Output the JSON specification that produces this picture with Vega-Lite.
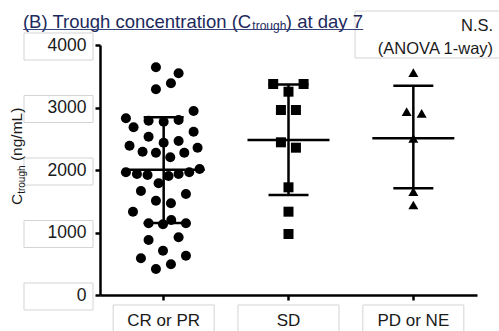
{
  "$schema": "https://vega.github.io/schema/vega-lite/v6.json",
  "width": 377,
  "height": 250,
  "autosize": {"type": "none"},
  "padding": {"left": 100, "top": 45, "right": 22, "bottom": 36},
  "background": "white",
  "config": {"view": {"stroke": null}, "font": "Liberation Sans"},
  "datasets": {
    "points": [
      {"group": "CR or PR", "off": -1.03, "value": 3643},
      {"group": "CR or PR", "off": 1.99, "value": 3547},
      {"group": "CR or PR", "off": 0.97, "value": 3387},
      {"group": "CR or PR", "off": -1.03, "value": 3291},
      {"group": "CR or PR", "off": 3.99, "value": 2944},
      {"group": "CR or PR", "off": -5.03, "value": 2827},
      {"group": "CR or PR", "off": -2.01, "value": 2789},
      {"group": "CR or PR", "off": 0, "value": 2773},
      {"group": "CR or PR", "off": 1.99, "value": 2800},
      {"group": "CR or PR", "off": -4.01, "value": 2683},
      {"group": "CR or PR", "off": 3.99, "value": 2613},
      {"group": "CR or PR", "off": -2.01, "value": 2533},
      {"group": "CR or PR", "off": 0, "value": 2437},
      {"group": "CR or PR", "off": 1.99, "value": 2464},
      {"group": "CR or PR", "off": -4.55, "value": 2389},
      {"group": "CR or PR", "off": 4.52, "value": 2357},
      {"group": "CR or PR", "off": -2.81, "value": 2293},
      {"group": "CR or PR", "off": -1.03, "value": 2277},
      {"group": "CR or PR", "off": 2.75, "value": 2277},
      {"group": "CR or PR", "off": 0.88, "value": 2203},
      {"group": "CR or PR", "off": -5.03, "value": 1963},
      {"group": "CR or PR", "off": -3.56, "value": 1936},
      {"group": "CR or PR", "off": -2.15, "value": 1920},
      {"group": "CR or PR", "off": 0.65, "value": 1904},
      {"group": "CR or PR", "off": 1.99, "value": 1936},
      {"group": "CR or PR", "off": 3.41, "value": 1963},
      {"group": "CR or PR", "off": 4.79, "value": 2016},
      {"group": "CR or PR", "off": -0.68, "value": 1787},
      {"group": "CR or PR", "off": -3.03, "value": 1664},
      {"group": "CR or PR", "off": 2.97, "value": 1616},
      {"group": "CR or PR", "off": -1.03, "value": 1509},
      {"group": "CR or PR", "off": 0.97, "value": 1467},
      {"group": "CR or PR", "off": -4.09, "value": 1333},
      {"group": "CR or PR", "off": -2.01, "value": 1147},
      {"group": "CR or PR", "off": -0.09, "value": 1131},
      {"group": "CR or PR", "off": 1.01, "value": 1200},
      {"group": "CR or PR", "off": 2.97, "value": 1147},
      {"group": "CR or PR", "off": -2.01, "value": 880},
      {"group": "CR or PR", "off": 1.99, "value": 923},
      {"group": "CR or PR", "off": -0.09, "value": 709},
      {"group": "CR or PR", "off": -3.03, "value": 587},
      {"group": "CR or PR", "off": 2.97, "value": 629},
      {"group": "CR or PR", "off": 0.97, "value": 491},
      {"group": "CR or PR", "off": -1.03, "value": 416},
      {"group": "SD", "off": -2.04, "value": 3376},
      {"group": "SD", "off": 2.01, "value": 3376},
      {"group": "SD", "off": 0, "value": 3253},
      {"group": "SD", "off": -1.01, "value": 2960},
      {"group": "SD", "off": 0.99, "value": 2960},
      {"group": "SD", "off": -1.01, "value": 2443},
      {"group": "SD", "off": 0.99, "value": 2357},
      {"group": "SD", "off": 0, "value": 1723},
      {"group": "SD", "off": 0, "value": 1333},
      {"group": "SD", "off": 0, "value": 976},
      {"group": "PD or NE", "off": 0, "value": 3557},
      {"group": "PD or NE", "off": -0.89, "value": 2933},
      {"group": "PD or NE", "off": 1.11, "value": 2907},
      {"group": "PD or NE", "off": 0, "value": 2507},
      {"group": "PD or NE", "off": 0, "value": 1653},
      {"group": "PD or NE", "off": 0, "value": 1440}
    ],
    "summary": [
      {"group": "CR or PR", "mean": 2005, "lo": 1152, "hi": 2845},
      {"group": "SD", "mean": 2480, "lo": 1600, "hi": 3368},
      {"group": "PD or NE", "mean": 2507, "lo": 1707, "hi": 3349}
    ],
    "ticks": [{"v": 0}, {"v": 1000}, {"v": 2000}, {"v": 3000}, {"v": 4000}]
  },
  "layer": [
    {
      "data": {"name": "ticks"},
      "mark": {"type": "point", "shape": "M-1,-0.348L1,-0.348L1,0.435L-1,0.435Z", "size": 4761, "filled": false, "stroke": "#d4d4d4", "strokeWidth": 1, "opacity": 1},
      "encoding": {
        "x": {"datum": "CR or PR", "title": null},
        "xOffset": {"datum": -14.02},
        "y": {"field": "v", "type": "quantitative", "title": null}
      }
    },
    {
      "data": {"name": "summary"},
      "mark": {"type": "point", "shape": "M-1,0.198L1,0.198L1,0.891L-1,0.891Z", "size": 10201, "filled": false, "stroke": "#d4d4d4", "strokeWidth": 1, "opacity": 1},
      "encoding": {
        "x": {"field": "group", "type": "nominal", "title": null},
        "y": {"datum": 0, "title": null}
      }
    },
    {
      "data": {"values": [{"t": "box"}]},
      "mark": {"type": "point", "shape": "M-1,-0.313L1,-0.313L1,0.313L-1,0.313Z", "size": 22500, "filled": false, "stroke": "#d4d4d4", "strokeWidth": 1, "opacity": 1},
      "encoding": {
        "x": {"datum": "CR or PR", "title": null},
        "xOffset": {"datum": 35.51},
        "y": {"datum": 4168, "title": null}
      }
    },
    {
      "data": {"name": "points"},
      "mark": {"type": "point", "filled": true, "size": 100, "opacity": 1, "color": "black", "strokeWidth": 0},
      "encoding": {
        "x": {
          "field": "group", "type": "nominal", "title": null,
          "sort": ["CR or PR", "SD", "PD or NE"],
          "scale": {"type": "band", "domain": ["CR or PR", "SD", "PD or NE"], "paddingInner": 0, "paddingOuter": 0.01},
          "axis": {"labelAngle": 0, "labelAlign": "center", "labelBaseline": "alphabetic", "labelFontSize": 17, "labelColor": "#1a1a1a", "labelPadding": 25, "labelFont": "Liberation Sans", "domainColor": "black", "domainWidth": 2.5, "ticks": true, "tickColor": "black", "tickWidth": 2.5, "tickSize": 5, "grid": false, "bandPosition": 0.5}
        },
        "xOffset": {"field": "off", "type": "quantitative", "scale": {"domain": [-8.32, 8.32]}},
        "y": {
          "field": "value", "type": "quantitative", "title": null,
          "scale": {"domain": [0, 4000], "nice": false},
          "axis": {"values": [0, 1000, 2000, 3000, 4000], "format": "d", "labelFontSize": 17.5, "labelColor": "#1a1a1a", "labelPadding": 9, "labelFont": "Liberation Sans", "domainColor": "black", "domainWidth": 2.5, "tickColor": "black", "tickWidth": 2.5, "tickSize": 5, "grid": false}
        },
        "shape": {"field": "group", "type": "nominal", "scale": {"domain": ["CR or PR", "SD", "PD or NE"], "range": ["circle", "square", "triangle-up"]}, "legend": null}
      }
    },
    {
      "data": {"name": "summary"},
      "mark": {"type": "rule", "color": "black", "strokeWidth": 2.5},
      "encoding": {
        "x": {"field": "group", "type": "nominal", "title": null},
        "y": {"field": "lo", "type": "quantitative", "title": null},
        "y2": {"field": "hi"}
      }
    },
    {
      "data": {"name": "summary"},
      "mark": {"type": "tick", "orient": "horizontal", "color": "black", "size": 82, "thickness": 2.5, "opacity": 1},
      "encoding": {
        "x": {"field": "group", "type": "nominal", "title": null},
        "y": {"field": "mean", "type": "quantitative", "title": null}
      }
    },
    {
      "data": {"name": "summary"},
      "mark": {"type": "tick", "orient": "horizontal", "color": "black", "size": 40, "thickness": 2.5, "opacity": 1},
      "encoding": {
        "x": {"field": "group", "type": "nominal", "title": null},
        "y": {"field": "lo", "type": "quantitative", "title": null}
      }
    },
    {
      "data": {"name": "summary"},
      "mark": {"type": "tick", "orient": "horizontal", "color": "black", "size": 40, "thickness": 2.5, "opacity": 1},
      "encoding": {
        "x": {"field": "group", "type": "nominal", "title": null},
        "y": {"field": "hi", "type": "quantitative", "title": null}
      }
    },
    {
      "data": {"values": [{"t": "(B) Trough concentration (C"}]},
      "mark": {"type": "text", "align": "left", "baseline": "alphabetic", "fontSize": 18.5, "color": "#1c2a5c", "font": "Liberation Sans"},
      "encoding": {
        "text": {"field": "t"},
        "x": {"datum": "CR or PR", "title": null},
        "xOffset": {"datum": -18.76},
        "y": {"datum": 4280, "title": null}
      }
    },
    {
      "data": {"values": [{"t": "trough"}]},
      "mark": {"type": "text", "align": "left", "baseline": "alphabetic", "fontSize": 12, "color": "#1c2a5c", "font": "Liberation Sans"},
      "encoding": {
        "text": {"field": "t"},
        "x": {"datum": "CR or PR", "title": null},
        "xOffset": {"datum": 11.82},
        "y": {"datum": 4240, "title": null}
      }
    },
    {
      "data": {"values": [{"t": ") at day 7"}]},
      "mark": {"type": "text", "align": "left", "baseline": "alphabetic", "fontSize": 18.5, "color": "#1c2a5c", "font": "Liberation Sans"},
      "encoding": {
        "text": {"field": "t"},
        "x": {"datum": "CR or PR", "title": null},
        "xOffset": {"datum": 16.29},
        "y": {"datum": 4280, "title": null}
      }
    },
    {
      "data": {"values": [{"t": "underline"}]},
      "mark": {"type": "tick", "orient": "horizontal", "size": 340, "thickness": 1, "color": "#34447a", "opacity": 1},
      "encoding": {
        "x": {"datum": "CR or PR", "title": null},
        "xOffset": {"datum": 3.94},
        "y": {"datum": 4248, "title": null}
      }
    },
    {
      "data": {"values": [{"t": "N.S.\n(ANOVA 1-way)"}]},
      "mark": {"type": "text", "align": "right", "baseline": "alphabetic", "fontSize": 16.5, "lineHeight": 23.5, "lineBreak": "\n", "color": "#1a1a1a", "font": "Liberation Sans"},
      "encoding": {
        "text": {"field": "t"},
        "x": {"datum": "CR or PR", "title": null},
        "xOffset": {"datum": 43.91},
        "y": {"datum": 4230, "title": null}
      }
    },
    {
      "data": {"values": [{"t": "C"}]},
      "mark": {"type": "text", "align": "left", "baseline": "alphabetic", "angle": 270, "fontSize": 15.5, "color": "#1a1a1a", "font": "Liberation Sans"},
      "encoding": {
        "text": {"field": "t"},
        "x": {"datum": "CR or PR", "title": null},
        "xOffset": {"datum": -18.89},
        "y": {"datum": 1440, "title": null}
      }
    },
    {
      "data": {"values": [{"t": "trough"}]},
      "mark": {"type": "text", "align": "left", "baseline": "alphabetic", "angle": 270, "fontSize": 10, "color": "#1a1a1a", "font": "Liberation Sans"},
      "encoding": {
        "text": {"field": "t"},
        "x": {"datum": "CR or PR", "title": null},
        "xOffset": {"datum": -18.49},
        "y": {"datum": 1619, "title": null}
      }
    },
    {
      "data": {"values": [{"t": "(ng/mL)"}]},
      "mark": {"type": "text", "align": "left", "baseline": "alphabetic", "angle": 270, "fontSize": 15.5, "color": "#1a1a1a", "font": "Liberation Sans"},
      "encoding": {
        "text": {"field": "t"},
        "x": {"datum": "CR or PR", "title": null},
        "xOffset": {"datum": -18.89},
        "y": {"datum": 2143, "title": null}
      }
    }
  ]
}
